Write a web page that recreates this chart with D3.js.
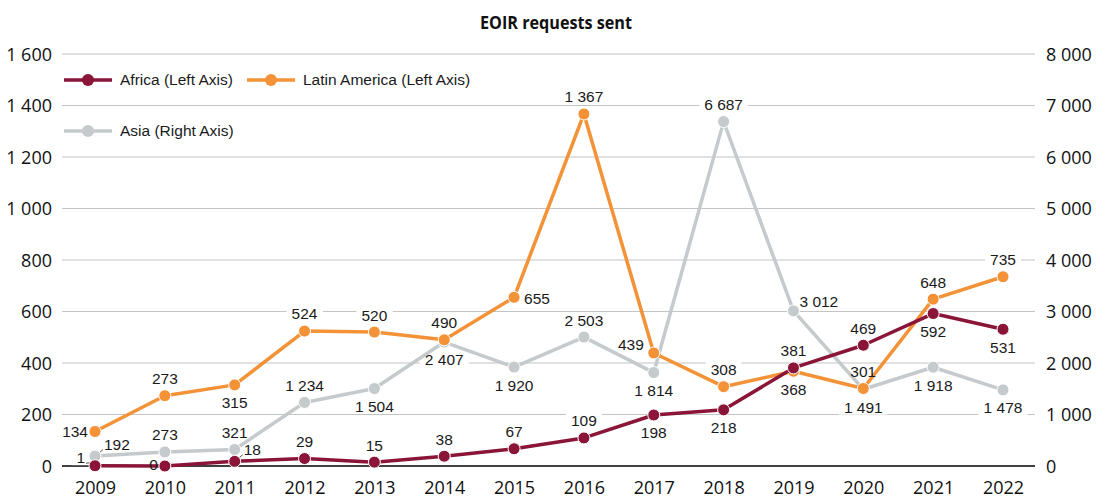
<!DOCTYPE html>
<html>
<head>
<meta charset="utf-8">
<script src="https://cdn.jsdelivr.net/npm/d3@7"></script>
<style>
  body { margin: 0; background: #fff; }
  svg { display: block; }
  .tick-label { font-family: "Open Sans", "Noto Sans", sans-serif; font-size: 18px; fill: #111; }
  .val { font-family: "Liberation Sans", Arial, sans-serif; font-size: 15.5px; fill: #1a1a1a; }
  .legend { font-family: "Liberation Sans", Arial, sans-serif; font-size: 15.5px; fill: #1a1a1a; }
  .title { font-family: "Open Sans", "Noto Sans", sans-serif; font-size: 18px; font-weight: bold; fill: #111; }
</style>
</head>
<body>
<script>
// EOIR requests sent, by region
const years = [2009, 2010, 2011, 2012, 2013, 2014, 2015, 2016, 2017, 2018, 2019, 2020, 2021, 2022];
const africa = [1, 0, 18, 29, 15, 38, 67, 109, 198, 218, 381, 469, 592, 531];
const latinAmerica = [134, 273, 315, 524, 520, 490, 655, 1367, 439, 308, 368, 301, 648, 735];
const asia = [192, 273, 321, 1234, 1504, 2407, 1920, 2503, 1814, 6687, 3012, 1491, 1918, 1478];
const leftTicks = [0, 200, 400, 600, 800, 1000, 1200, 1400, 1600];
const rightTicks = [0, 1000, 2000, 3000, 4000, 5000, 6000, 7000, 8000];

// where each value label sits relative to its point
const africaLabelPos = ["leaderUL", "leftHigh", "leaderUR", "above", "above", "above", "above", "above", "below", "below", "above", "above", "below", "below"];
const latinLabelPos = ["left", "above", "below", "above", "above", "above", "right", "above", "aboveLeft", "above", "below", "above", "above", "above"];
const asiaLabelPos = ["leaderUR", "above", "above", "above", "below", "below", "below", "above", "below", "above", "aboveRight", "below", "below", "below"];

const W = 1105, H = 499;
const svg = d3.select("body").append("svg").attr("width", W).attr("height", H);

const x = d3.scalePoint().domain(years).range([95, 1003]);
const yL = d3.scaleLinear().domain([0, 1600]).range([466, 54]);
const yR = d3.scaleLinear().domain([0, 8000]).range([466, 54]);

// thousands separated by a space
const fmt = v => d3.format(",")(v).replace(/,/g, " ");

// title
svg.append("text").attr("class", "title").attr("x", 556).attr("y", 29)
  .attr("text-anchor", "middle")
  .attr("textLength", 152).attr("lengthAdjust", "spacingAndGlyphs")
  .text("EOIR requests sent");

// gridlines
const gridX0 = 62, gridX1 = 1035;
svg.append("g").selectAll("line").data(leftTicks).join("line")
  .attr("x1", gridX0).attr("x2", gridX1)
  .attr("y1", d => yL(d)).attr("y2", d => yL(d))
  .attr("stroke", d => d === 0 ? "#000" : "#c4c4c4")
  .attr("stroke-width", d => d === 0 ? 1.4 : 1.2);

function styleAxis(g) {
  g.select(".domain").remove();
  g.selectAll("text").attr("class", "tick-label").attr("fill", null)
    .attr("font-size", null).attr("font-family", null).attr("dy", "0.35em");
}

// left axis
const leftAxis = d3.axisLeft(yL).tickValues(leftTicks).tickSize(0).tickPadding(0).tickFormat(fmt);
svg.append("g").attr("transform", "translate(52,0)").call(leftAxis).call(styleAxis);

// right axis
const rightAxis = d3.axisRight(yR).tickValues(rightTicks).tickSize(0).tickPadding(0).tickFormat(fmt);
svg.append("g").attr("transform", "translate(1046,0)").call(rightAxis).call(styleAxis);

// bottom axis
const bottomAxis = d3.axisBottom(x).tickSize(0).tickPadding(0).tickFormat(d3.format("d"));
svg.append("g").attr("transform", "translate(0,488)").call(bottomAxis).call(styleAxis);

const series = [
  { name: "Africa (Left Axis)", values: africa, pos: africaLabelPos, y: yL, color: "#8a1538" },
  { name: "Latin America (Left Axis)", values: latinAmerica, pos: latinLabelPos, y: yL, color: "#f39237" },
  { name: "Asia (Right Axis)", values: asia, pos: asiaLabelPos, y: yR, color: "#c5cacd" }
];

// label placement: offset from the point and text anchor
const placements = {
  above:      { dx: 0,   dy: -17, anchor: "middle" },
  below:      { dx: 0,   dy: 18,  anchor: "middle" },
  left:       { dx: -7,  dy: 0,   anchor: "end" },
  leftHigh:   { dx: -7,  dy: -1,  anchor: "end" },
  right:      { dx: 10,  dy: 1,   anchor: "start" },
  aboveLeft:  { dx: -10, dy: -8,  anchor: "end" },
  aboveRight: { dx: 6,   dy: -9,  anchor: "start" },
  leaderUL:   { dx: -10, dy: -8,  anchor: "end" },
  leaderUR:   { dx: 9,   dy: -12, anchor: "start" }
};

const bgLayer = svg.append("g");
const lineLayer = svg.append("g");
const labelLayer = svg.append("g");

// value labels with a white backing that breaks the gridlines
series.forEach(s => {
  s.values.forEach((v, i) => {
    const px = x(years[i]), py = s.y(v);
    const p = placements[s.pos[i]];
    const t = labelLayer.append("text").attr("class", "val")
      .attr("x", px + p.dx).attr("y", py + p.dy).attr("dy", "0.35em")
      .attr("text-anchor", p.anchor).text(fmt(v));
    const b = t.node().getBBox();
    bgLayer.append("rect").attr("x", b.x - 5).attr("y", b.y + 1)
      .attr("width", b.width + 10).attr("height", b.height - 2).attr("fill", "#fff");
    if (s.pos[i].startsWith("leader")) {
      const ul = s.pos[i] === "leaderUL";
      lineLayer.append("line")
        .attr("x1", ul ? b.x + b.width + 1 : b.x - 1).attr("y1", b.y + b.height - 3)
        .attr("x2", px + (ul ? -4 : 4)).attr("y2", py - 3)
        .attr("stroke", "#222").attr("stroke-width", 0.8);
    }
  });
});

// lines and markers; Asia underneath the left-axis series
const order = [series[2], series[1], series[0]];
order.forEach(s => {
  const line = d3.line().x((d, i) => x(years[i])).y(d => s.y(d));
  lineLayer.append("path").datum(s.values).attr("d", line)
    .attr("fill", "none").attr("stroke", s.color).attr("stroke-width", 3.5)
    .attr("stroke-linejoin", "round");
  lineLayer.append("g").selectAll("circle").data(s.values).join("circle")
    .attr("cx", (d, i) => x(years[i])).attr("cy", d => s.y(d)).attr("r", 6)
    .attr("fill", s.color).attr("stroke", "#fff").attr("stroke-width", 1);
});

// legend
const legendItems = [
  { s: series[0], x: 64, y: 80 },
  { s: series[1], x: 247, y: 80 },
  { s: series[2], x: 64, y: 131 }
];
const lg = svg.append("g");
legendItems.forEach(it => {
  lg.append("line").attr("x1", it.x).attr("x2", it.x + 48).attr("y1", it.y).attr("y2", it.y)
    .attr("stroke", it.s.color).attr("stroke-width", 3.5);
  lg.append("circle").attr("cx", it.x + 24).attr("cy", it.y).attr("r", 6).attr("fill", it.s.color);
  lg.append("text").attr("class", "legend").attr("x", it.x + 56).attr("y", it.y).attr("dy", "0.35em").text(it.s.name);
});
</script>
</body>
</html>
